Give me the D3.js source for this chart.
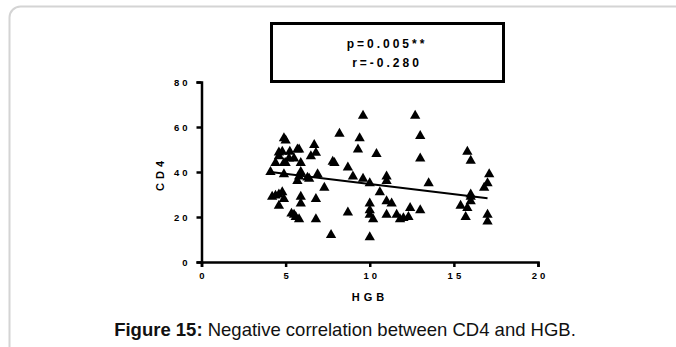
<!DOCTYPE html>
<html><head><meta charset="utf-8">
<script src="https://cdn.jsdelivr.net/npm/d3@7"></script>
<style>html,body{margin:0;padding:0;background:#fff;}svg{display:block;}</style>
</head><body>
<svg id="c" width="676" height="347"></svg>
<script>
const hgb = [4.1,4.2,4.4,4.6,4.6,4.6,4.6,4.8,4.8,4.9,5.0,4.9,4.9,5.0,4.9,5.25,5.35,5.5,5.5,5.7,5.8,5.6,5.8,5.7,5.8,5.9,5.9,5.9,5.9,6.5,6.4,6.7,6.8,6.8,6.8,6.9,7.3,7.8,7.9,7.7,8.2,8.7,8.7,9.0,9.4,9.3,9.6,9.6,10.0,10.0,10.0,10.0,10.0,10.2,10.4,10.6,11.0,11.0,11.0,11.0,11.3,11.6,11.8,12.0,12.3,12.4,12.7,13.0,13.0,13.0,13.5,15.4,15.7,15.8,15.8,16.0,16.0,16.0,16.0,16.8,17.0,17.1,17.0,17.0,5.2,6.3,4.4];
const cd4 = [40,29,44,47,48.7,25,30,49,31,55,54,44,39,44,28,49,21.5,21,46,50,50,20,19,36,38,40,44,29,26,47,37,52,48.5,28,19,39,33,44.6,44,12,57,42,22,38,55,50,65,37,35,26,23,21,11,19,48,31,38,36,27,21,26,21,19,19.5,20,24,65,56,46,23,35,25,20,49,24,45,30,29,27,33,35,39,21,18,46,37.5,29.5];
const fitX = [4.1, 17.0];
const fitY = [40.0, 28.3];
const xTicks = [0,5,10,15,20];
const yTicks = [0,20,40,60,80];
const statLines = ["p=0.005**", "r=-0.280"];

const svg = d3.select("#c");
svg.append("rect").attr("x",9.5).attr("y",6.5).attr("width",720).attr("height",400)
  .attr("rx",11).attr("fill","none").attr("stroke","#d4d4d4").attr("stroke-width",2);

const x = d3.scaleLinear().domain([0,20]).range([201.5,538]);
const y = d3.scaleLinear().domain([0,80]).range([262,82]);

const tickFont = "'Liberation Sans', Arial, sans-serif";

const xAxis = svg.append("g").attr("transform","translate(0,262)")
  .call(d3.axisBottom(x).tickValues(xTicks).tickSize(5).tickPadding(5).tickFormat(d3.format("d")));
const yAxis = svg.append("g").attr("transform","translate(201.5,0)")
  .call(d3.axisLeft(y).tickValues(yTicks).tickSize(5).tickPadding(6).tickFormat(d3.format("d")));
[xAxis,yAxis].forEach(g=>{
  g.select(".domain").attr("stroke","#000").attr("stroke-width",2.5);
  g.selectAll(".tick line").attr("stroke","#000").attr("stroke-width",2.5);
  g.selectAll("text").attr("font-family",tickFont).attr("font-weight","bold")
   .attr("font-size","9.5px").attr("letter-spacing","3px").attr("fill","#000");
});
xAxis.selectAll("text").attr("dx","1.5px");

svg.append("text").attr("x",370).attr("y",301).attr("text-anchor","middle")
  .attr("font-family",tickFont).attr("font-weight","bold").attr("font-size","11px")
  .attr("letter-spacing","4px").text("HGB");
svg.append("text").attr("transform","translate(164,174) rotate(-90)").attr("text-anchor","middle")
  .attr("font-family",tickFont).attr("font-weight","bold").attr("font-size","11px")
  .attr("letter-spacing","4px").text("CD4");

const tri = d3.symbol().type(d3.symbolTriangle).size(46);
svg.append("g").selectAll("path").data(hgb.map((v,i)=>[v,cd4[i]])).join("path")
  .attr("d",tri).attr("transform",d=>`translate(${x(d[0])},${y(d[1])})`).attr("fill","#000");

svg.append("line").attr("x1",x(fitX[0])).attr("y1",y(fitY[0])).attr("x2",x(fitX[1])).attr("y2",y(fitY[1]))
  .attr("stroke","#000").attr("stroke-width",2);

svg.append("rect").attr("x",271.5).attr("y",23.5).attr("width",232).attr("height",58)
  .attr("fill","#fff").attr("stroke","#000").attr("stroke-width",3);
svg.append("g").selectAll("text").data(statLines).join("text")
  .attr("x",387).attr("y",(d,i)=>48+i*18.5).attr("text-anchor","middle")
  .attr("font-family",tickFont).attr("font-weight","bold").attr("font-size","12px")
  .attr("letter-spacing","3px").text(d=>d);

const cap = svg.append("text").attr("x",345).attr("y",336).attr("text-anchor","middle")
  .attr("font-family",tickFont).attr("font-size","18.5px").attr("fill","#111");
cap.append("tspan").attr("font-weight","bold").text("Figure 15:");
cap.append("tspan").text(" Negative correlation between CD4 and HGB.");
</script>
</body></html>
